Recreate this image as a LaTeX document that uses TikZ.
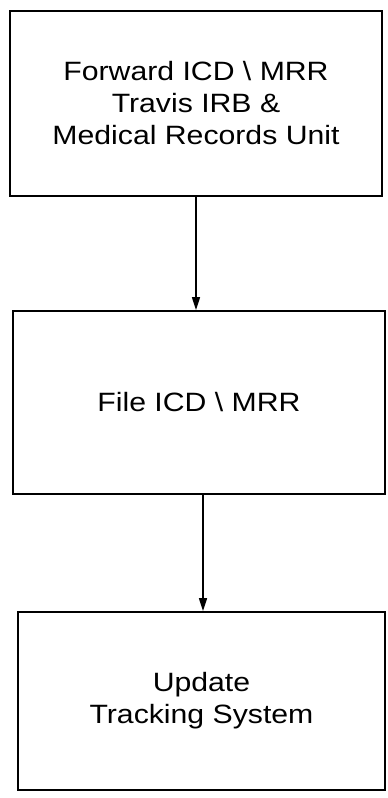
\documentclass[tikz,border=0pt]{standalone}
\usepackage{fontspec}
\setmainfont{Liberation Sans}[FakeStretch=1.14]
\usetikzlibrary{arrows.meta}
\begin{document}
\begin{tikzpicture}[x=1pt,y=-1pt,
  box/.style={draw, line width=1.8pt, rectangle, align=center,
    font=\fontsize{26.5}{32}\selectfont, inner sep=0pt},
  arr/.style={line width=1.4pt, -{Triangle[length=13pt,width=8pt]}}]
\useasboundingbox (0,0) rectangle (388,798);
\node[box, minimum width=372pt, minimum height=185pt] (b1) at (196,103.5)
  {Forward ICD \textbackslash{} MRR\\Travis IRB \&\\Medical Records Unit};
\node[box, minimum width=372pt, minimum height=183pt] (b2) at (199,402.5)
  {File ICD \textbackslash{} MRR};
\node[box, minimum width=367pt, minimum height=178pt] (b3) at (201.5,701)
  {Update\\Tracking System};
\draw[arr] (b1.south) -- (b1.south |- b2.north);
\draw[arr] ([xshift=4pt]b2.south) -- ([xshift=4pt]b2.south |- b3.north);
\end{tikzpicture}
\end{document}
